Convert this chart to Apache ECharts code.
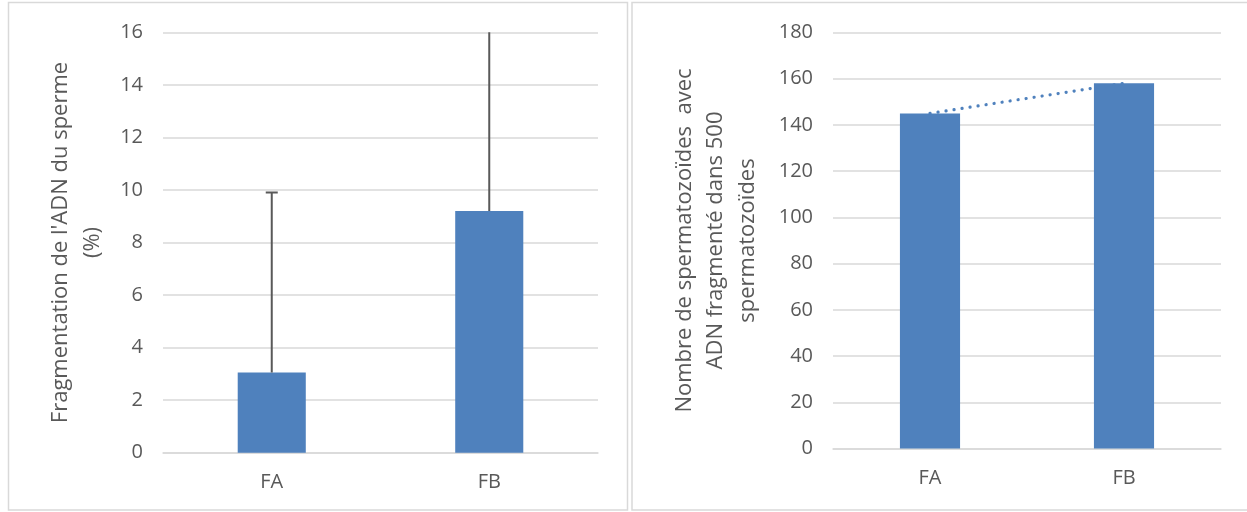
<!DOCTYPE html>
<html>
<head>
<meta charset="utf-8">
<script src="https://cdn.jsdelivr.net/npm/echarts@6/dist/echarts.min.js"></script>
<style>
html,body{margin:0;padding:0;background:#fff;}
#c{width:1247px;height:512px;}
</style>
</head>
<body>
<div id="c"></div>
<script>
// ---- data ----
const categories = ['FA', 'FB'];
const fragPct = [3.05, 9.2];          // left chart bar values (%)
const fragErrUp = [6.85, 7.4];        // upward error (FB goes beyond the 16 limit)
const fragTicks = {min: 0, max: 16, interval: 2};
const counts = [145, 158];            // right chart bar values
const countTicks = {min: 0, max: 180, interval: 20};
const leftTitle = "Fragmentation de l'ADN du sperme\n(%)";
const rightTitle = "Nombre de spermatozoïdes  avec\nADN fragmenté dans 500\nspermatozoïdes";

const FONT = 'Open Sans';
const TXT = '#595959';
const GRID = '#d9d9d9';
const BAR = '#4F81BD';

const chart = echarts.init(document.getElementById('c'), null, {renderer: 'canvas'});

function xAx(gi) {
  return {
    type: 'category', gridIndex: gi, data: categories,
    axisLine: {lineStyle: {color: GRID, width: 1.5}},
    axisTick: {show: false},
    axisLabel: {color: TXT, fontFamily: FONT, fontSize: 20, margin: 20}
  };
}
function yAx(gi, t, name, gap) {
  return {
    type: 'value', gridIndex: gi, min: t.min, max: t.max, interval: t.interval,
    name: name, nameLocation: 'middle', nameRotate: 90, nameGap: gap,
    nameTextStyle: {color: TXT, fontFamily: FONT, fontSize: 22, lineHeight: 31.5, align: 'center'},
    axisLine: {show: false}, axisTick: {show: false},
    axisLabel: {color: TXT, fontFamily: FONT, fontSize: 20, margin: 20},
    splitLine: {lineStyle: {color: GRID, width: 1.5}}
  };
}

chart.setOption({
  animation: false,
  backgroundColor: '#fff',
  graphic: [
    {type: 'rect', shape: {x: 8.5, y: 2.5, width: 619, height: 507.5}, style: {fill: 'none', stroke: GRID, lineWidth: 1.5}, silent: true},
    {type: 'rect', shape: {x: 632, y: 2.5, width: 620, height: 507.5}, style: {fill: 'none', stroke: GRID, lineWidth: 1.5}, silent: true}
  ],
  grid: [
    {left: 163, right: 649, top: 32.3, bottom: 59.3},
    {left: 833, right: 26, top: 32.5, bottom: 63.5}
  ],
  xAxis: [xAx(0), xAx(1)],
  yAxis: [yAx(0, fragTicks, leftTitle, 55), yAx(1, countTicks, rightTitle, 70)],
  series: [
    {type: 'bar', xAxisIndex: 0, yAxisIndex: 0, data: fragPct, barWidth: '31.3%', itemStyle: {color: BAR}},
    {
      type: 'custom', xAxisIndex: 0, yAxisIndex: 0, clip: true, z: 3,
      data: fragPct.map((v, i) => [i, v, v + fragErrUp[i]]),
      renderItem: function (params, api) {
        const base = api.coord([api.value(0), api.value(1)]);
        const top = api.coord([api.value(0), api.value(2)]);
        const half = 6;
        return {
          type: 'group',
          children: [
            {type: 'line', shape: {x1: base[0], y1: base[1], x2: top[0], y2: top[1]}, style: {stroke: '#595959', lineWidth: 2}},
            {type: 'line', shape: {x1: top[0] - half, y1: top[1], x2: top[0] + half, y2: top[1]}, style: {stroke: '#595959', lineWidth: 2}}
          ]
        };
      }
    },
    {type: 'bar', xAxisIndex: 1, yAxisIndex: 1, data: counts, barWidth: '31%', itemStyle: {color: BAR}},
    {type: 'line', xAxisIndex: 1, yAxisIndex: 1, data: counts, symbol: 'none', z: 3,
     lineStyle: {color: BAR, width: 3.2, type: [0.1, 8], cap: 'round'}}
  ]
});
</script>
</body>
</html>
